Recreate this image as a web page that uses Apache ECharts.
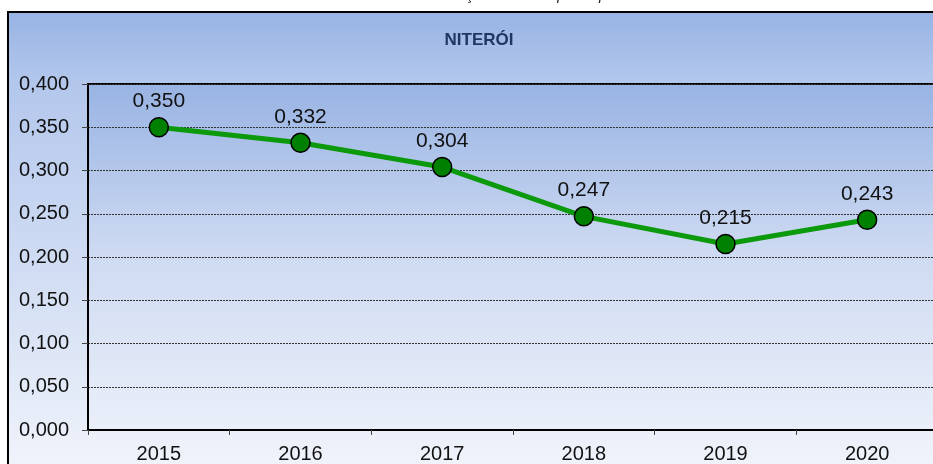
<!DOCTYPE html>
<html>
<head>
<meta charset="utf-8">
<title>Niterói</title>
<script src="https://cdn.jsdelivr.net/npm/echarts@6/dist/echarts.min.js"></script>
<style>
  html, body { margin: 0; padding: 0; background: #ffffff; }
  #chart { width: 933px; height: 464px; }
</style>
</head>
<body>
<div id="chart"></div>
<script>
// Years on the category axis
const years = ['2015', '2016', '2017', '2018', '2019', '2020'];
// Index values for Niterói
const values = [0.350, 0.332, 0.304, 0.247, 0.215, 0.243];
// Value-axis range and step
const yMin = 0;
const yMax = 0.4;
const yStep = 0.05;

const fmt = v => v.toFixed(3).replace('.', ',');

const chart = echarts.init(document.getElementById('chart'), null, { renderer: 'canvas' });

chart.setOption({
  animation: false,
  backgroundColor: '#ffffff',
  graphic: [
    {
      type: 'rect',
      z: -10,
      silent: true,
      shape: { x: 8, y: 12, width: 940, height: 470 },
      style: {
        fill: new echarts.graphic.LinearGradient(0, 0, 0, 1, [
          { offset: 0, color: '#97b3e3' },
          { offset: 0.15, color: '#b3c7ec' },
          { offset: 1, color: '#f2f5fb' }
        ]),
        stroke: '#000000',
        lineWidth: 2
      }
    },
    {
      type: 'text',
      silent: true,
      x: 479,
      y: 40,
      style: {
        text: 'NITERÓI',
        font: 'bold 17px "Liberation Sans", Arial, sans-serif',
        fill: '#1f3763',
        align: 'center',
        verticalAlign: 'middle'
      }
    },
    {
      type: 'text',
      silent: true,
      x: 479,
      y: -4,
      style: {
        text: 'Gráfico 10 – Indicador de arrecadação tributária per capita – 2015 a 2020',
        font: 'italic 15px "Liberation Sans", Arial, sans-serif',
        fill: '#222222',
        align: 'center',
        verticalAlign: 'middle'
      }
    }
  ],
  grid: {
    left: 88,
    top: 84,
    width: 850,
    bottom: 34,
    containLabel: false,
    outerBoundsMode: 'none',
    show: true,
    borderColor: '#000000',
    borderWidth: 2,
    backgroundColor: new echarts.graphic.LinearGradient(0, 0, 0, 1, [
      { offset: 0, color: '#98b3e3' },
      { offset: 0.5, color: '#cfdbf2' },
      { offset: 1, color: '#eaeff9' }
    ])
  },
  xAxis: {
    type: 'category',
    data: years,
    boundaryGap: true,
    axisLine: { lineStyle: { color: '#000000', width: 2 } },
    axisTick: { show: true, length: 5, alignWithLabel: false, lineStyle: { color: '#444444', width: 1 } },
    axisLabel: {
      margin: 14,
      color: '#111111',
      fontSize: 20,
      fontFamily: '"Liberation Sans", Arial, sans-serif'
    },
    splitLine: { show: false }
  },
  yAxis: {
    type: 'value',
    min: yMin,
    max: yMax,
    interval: yStep,
    axisLine: { show: true, lineStyle: { color: '#000000', width: 2 } },
    axisTick: { show: true, length: 6, lineStyle: { color: '#444444', width: 1 } },
    axisLabel: {
      margin: 19,
      color: '#111111',
      fontSize: 20,
      fontFamily: '"Liberation Sans", Arial, sans-serif',
      formatter: v => fmt(v)
    },
    splitLine: { show: true, lineStyle: { color: '#333333', width: 1, type: [2, 1] } }
  },
  series: [
    {
      type: 'line',
      data: values,
      symbol: 'circle',
      symbolSize: 19,
      lineStyle: { color: '#0c9a0c', width: 5 },
      itemStyle: { color: '#008000', borderColor: '#000000', borderWidth: 1.5 },
      label: {
        show: true,
        position: 'top',
        distance: 5,
        color: '#111111',
        fontSize: 21,
        fontFamily: '"Liberation Sans", Arial, sans-serif',
        formatter: p => fmt(p.value)
      },
      z: 5
    }
  ]
});
</script>
</body>
</html>
